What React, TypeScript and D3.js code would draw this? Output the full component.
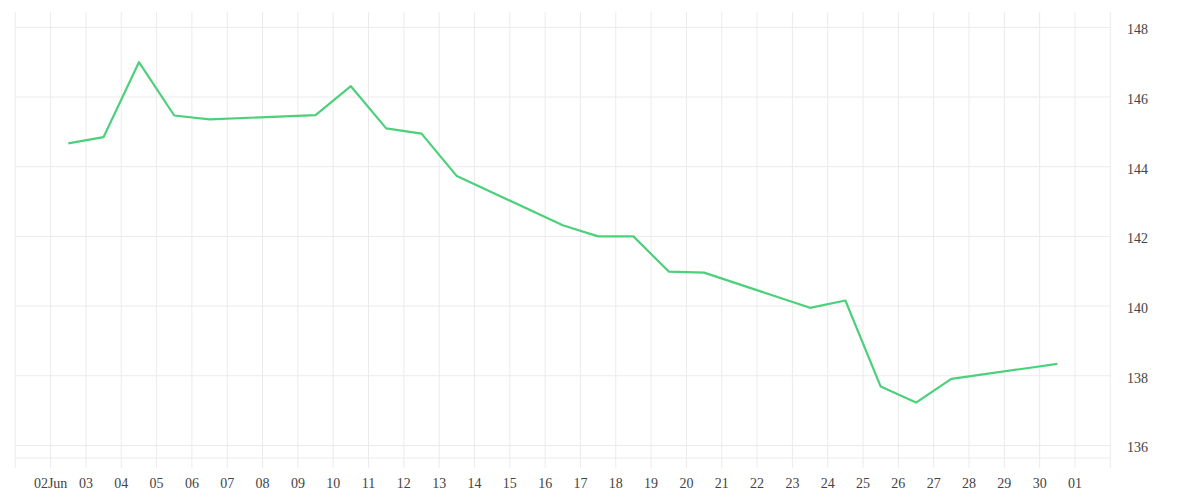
import React from "react";
import * as d3 from "d3";

const dates: string[] = [
  "2025-06-02", "2025-06-03", "2025-06-04", "2025-06-05", "2025-06-06",
  "2025-06-09", "2025-06-10", "2025-06-11", "2025-06-12", "2025-06-13",
  "2025-06-16", "2025-06-17", "2025-06-18", "2025-06-19", "2025-06-20",
  "2025-06-23", "2025-06-24", "2025-06-25", "2025-06-26", "2025-06-27",
  "2025-06-30",
];
const values: number[] = [
  144.67, 144.85, 147.0, 145.47, 145.36,
  145.48, 146.31, 145.1, 144.95, 143.73,
  142.32, 142.0, 142.0, 140.99, 140.96,
  139.95, 140.16, 137.69, 137.23, 137.91,
  138.34,
];
const xTickLabels: string[] = [
  "", "02Jun", "03", "04", "05", "06", "07", "08", "09", "10", "11", "12", "13", "14", "15",
  "16", "17", "18", "19", "20", "21", "22", "23", "24", "25", "26", "27", "28", "29", "30", "01", "",
];
const yTicks: number[] = [136, 138, 140, 142, 144, 146, 148];
const xDomain: string[] = ["2025-06-01", "2025-07-02"];
const yDomain: number[] = [135.64, 148.44];

const W = 1200;
const H = 500;
const left = 15.3;
const right = 1110.3;
const top = 12;
const bottom = 458;

export default function App() {
  const x = d3
    .scaleUtc()
    .domain(xDomain.map((d) => new Date(d + "T00:00:00Z")))
    .range([left, right]);
  const y = d3.scaleLinear().domain(yDomain).range([bottom, top]);
  const dayTicks = d3.utcDay.range(x.domain()[0], d3.utcDay.offset(x.domain()[1], 1));
  const pts = dates.map((d, i) => ({
    t: d3.utcHour.offset(new Date(d + "T00:00:00Z"), 12),
    v: values[i],
  }));
  const line = d3
    .line<{ t: Date; v: number }>()
    .x((d) => x(d.t))
    .y((d) => y(d.v));
  const grid = "#ebebeb";
  return (
    <svg
      width={W}
      height={H}
      style={{ position: "absolute", left: 0, top: 0, background: "#fff" }}
      fontFamily="serif"
    >
      {yTicks.map((t) => (
        <line key={"h" + t} x1={left} x2={right} y1={y(t)} y2={y(t)} stroke={grid} strokeWidth={1} />
      ))}
      <line x1={left} x2={right} y1={bottom} y2={bottom} stroke={grid} strokeWidth={1} />
      {dayTicks.map((d, i) => (
        <line key={"v" + i} x1={x(d)} x2={x(d)} y1={top} y2={bottom + 10} stroke={grid} strokeWidth={1} />
      ))}
      <path d={line(pts) || ""} fill="none" stroke="#4cd07b" strokeWidth={2.2} strokeLinejoin="round" />
      {dayTicks.map((d, i) => (
        <text key={"xl" + i} x={x(d)} y={488} textAnchor="middle" fontSize={14} fill="#444">
          {xTickLabels[i] || ""}
        </text>
      ))}
      {yTicks.map((t) => (
        <text key={"yl" + t} x={1127} y={y(t) + 7} fontSize={14} fill="#444">
          {t}
        </text>
      ))}
    </svg>
  );
}
